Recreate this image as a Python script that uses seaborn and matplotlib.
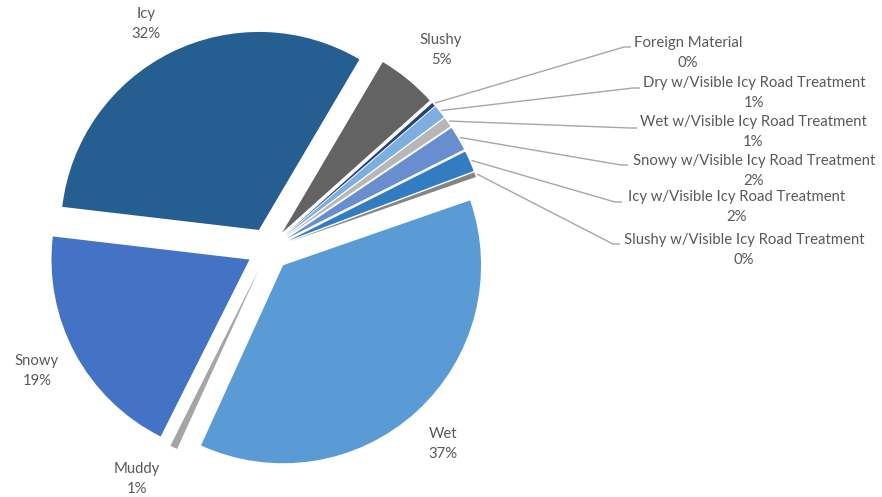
import numpy as np
import matplotlib
matplotlib.use("Agg")
import matplotlib.pyplot as plt
import seaborn as sns

# ---- data ----
categories = ["Icy", "Slushy", "Foreign Material",
              "Dry w/Visible Icy Road Treatment",
              "Wet w/Visible Icy Road Treatment",
              "Snowy w/Visible Icy Road Treatment",
              "Icy w/Visible Icy Road Treatment",
              "Slushy w/Visible Icy Road Treatment",
              "Wet", "Muddy", "Snowy"]
values = [31.6, 4.9, 0.3, 1.1, 0.8, 2.0, 1.7, 0.4, 37.1, 0.6, 19.45]
colors = ["#255E91", "#636363", "#264478", "#7CAFDD", "#B7B7B7", "#698ED0",
          "#327DC2", "#848484", "#5B9BD5", "#A5A5A5", "#4472C4"]

# ---- layout (image pixel coords, y downward) ----
W, H = 882, 497
label_pos = {
    "Icy": (146, 24), "Slushy": (441, 50), "Foreign Material": (688, 53),
    "Dry w/Visible Icy Road Treatment": (754, 93),
    "Wet w/Visible Icy Road Treatment": (753, 132),
    "Snowy w/Visible Icy Road Treatment": (754, 171),
    "Icy w/Visible Icy Road Treatment": (737, 207),
    "Slushy w/Visible Icy Road Treatment": (744, 250),
    "Wet": (443, 444), "Snowy": (37, 371), "Muddy": (137, 479),
}
leader_end = {
    "Foreign Material": (631, 47),
    "Dry w/Visible Icy Road Treatment": (640, 88),
    "Wet w/Visible Icy Road Treatment": (637, 128),
    "Snowy w/Visible Icy Road Treatment": (628, 165),
    "Icy w/Visible Icy Road Treatment": (622, 202),
    "Slushy w/Visible Icy Road Treatment": (620, 244),
}
cx, cy, R = 268.5, 249.3, 198
explode_px = 21.6
start_cw = 276.7  # degrees clockwise from 12 o'clock

sns.set_theme(style="white")
plt.rcParams['font.family'] = ['Lato', 'DejaVu Sans']

fig = plt.figure(figsize=(W / 100, H / 100), dpi=100)
ax = fig.add_axes([0, 0, 1, 1])
wedges, _ = ax.pie(values, colors=colors, startangle=90 - start_cw, counterclock=False,
                   radius=R, center=(cx, H - cy), explode=[explode_px] * len(values),
                   wedgeprops=dict(linewidth=0))
ax.set_xlim(0, W)
ax.set_ylim(0, H)
ax.set_aspect('equal')
ax.axis('off')

txt_color = "#595959"
total = sum(values)
cum = 0
for cat, v in zip(categories, values):
    mid_cw = start_cw + (cum + v / 2) / total * 360
    cum += v
    lx, ly = label_pos[cat]
    ax.text(lx, H - ly, f"{cat}\n{v:.0f}%", ha="center", va="center",
            fontsize=10.7, color=txt_color, linespacing=1.6)
    if cat in leader_end:
        th = np.deg2rad(mid_cw)
        rr = R + explode_px + 2
        sx = cx + rr * np.sin(th)
        sy = cy - rr * np.cos(th)
        ex, ey = leader_end[cat]
        ax.plot([sx, ex - 7, ex], [H - sy, H - ey, H - ey], color="#A6A6A6", lw=1.0,
                solid_capstyle="butt")

fig.savefig("out.png", dpi=100, facecolor="white")
